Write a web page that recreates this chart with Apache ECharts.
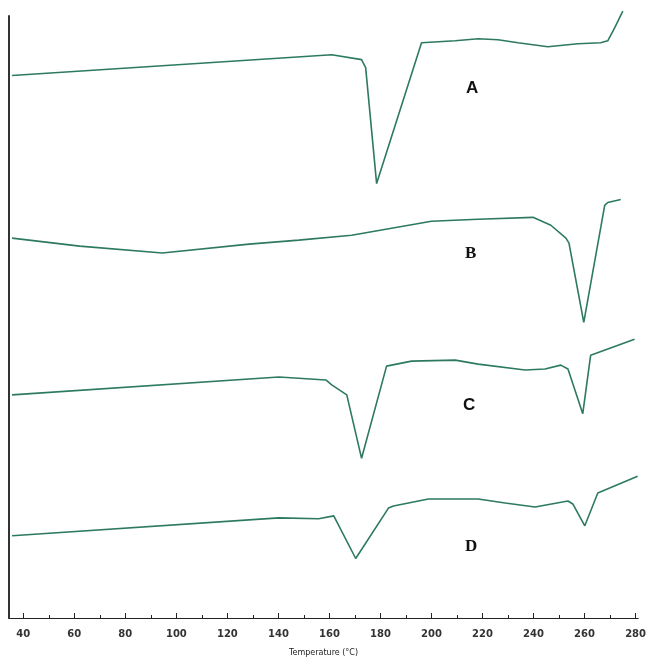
<!DOCTYPE html>
<html>
<head>
<meta charset="utf-8">
<script src="https://cdn.jsdelivr.net/npm/echarts@6/dist/echarts.min.js"></script>
<style>
  html, body { margin: 0; padding: 0; background: #fff; }
  #chart { width: 649px; height: 662px; }
</style>
</head>
<body>
<div id="chart"></div>
<script>
// DSC thermograms, heat flow in arbitrary units (no y scale on the figure)
const tempA = [35.6, 160.9, 172.6, 174.2, 178.5, 196.1, 209.3, 218.3, 226.1, 233.9, 245.6, 257.4, 266.3, 269.1, 271.8, 275.0];
const heatA = [547, 568, 563, 555, 438, 580, 582, 584, 583, 580, 576, 579, 580, 582, 595, 612];

const tempB = [35.6, 62.1, 94.5, 128.5, 148.0, 168.7, 200.0, 218.3, 239.8, 246.8, 252.7, 253.9, 259.7, 267.9, 269.1, 274.2];
const heatB = [383, 375, 368, 377, 381, 386, 400, 402, 404, 396, 383, 378, 298, 416, 419, 422];

const tempC = [35.6, 140.2, 158.6, 160.9, 166.8, 172.6, 182.4, 192.2, 209.3, 218.3, 236.7, 244.5, 250.7, 253.5, 259.3, 262.4, 279.6];
const heatC = [225, 243, 240, 235, 225, 161, 254, 259, 260, 256, 250, 251, 255, 251, 206, 265, 281];

const tempD = [35.6, 140.2, 155.8, 161.7, 170.3, 183.2, 185.1, 198.8, 218.3, 228.9, 240.6, 253.5, 255.4, 260.1, 265.2, 280.8];
const heatD = [83, 101, 100, 103, 60, 111, 113, 120, 120, 116, 112, 118, 115, 93, 126, 143];

const majorTicks = [40, 60, 80, 100, 120, 140, 160, 180, 200, 220, 240, 260, 280];
const minorTicks = [40, 50, 60, 70, 80, 90, 100, 110, 120, 130, 140, 150, 160, 170, 180, 190, 200, 210, 220, 230, 240, 250, 260, 270, 280];

const curveLabels = [
  { text: 'A', x: 466, y: 80, font: 'bold 17px "Liberation Sans"' },
  { text: 'B', x: 465, y: 245, font: 'bold 17px "Liberation Serif"' },
  { text: 'C', x: 463, y: 397, font: 'bold 17px "Liberation Sans"' },
  { text: 'D', x: 465, y: 538, font: 'bold 17px "Liberation Serif"' }
];

const zip = (xs, ys) => xs.map((x, i) => [x, ys[i]]);
const lineColor = '#2d7a5f';

const chart = echarts.init(document.getElementById('chart'));

const makeSeries = (name, xs, ys) => ({
  name: name,
  type: 'line',
  data: zip(xs, ys),
  symbol: 'none',
  clip: false,
  lineStyle: { color: lineColor, width: 1.6 }
});

chart.setOption({
  animation: false,
  grid: { left: 9, right: 8, top: 16, bottom: 39 },
  xAxis: [
    {
      type: 'value',
      min: 34.4,
      max: 281,
      name: 'Temperature (°C)',
      nameLocation: 'middle',
      nameGap: 31,
      nameTextStyle: { fontSize: 8, color: '#222', fontFamily: 'DejaVu Sans' },
      axisLine: { lineStyle: { color: '#222', width: 1.2 } },
      axisTick: { inside: true, length: 5, customValues: majorTicks, lineStyle: { color: '#222' } },
      axisLabel: {
        customValues: majorTicks,
        margin: 11,
        fontSize: 10,
        fontWeight: 'bold',
        color: '#333',
        fontFamily: 'DejaVu Sans'
      },
      splitLine: { show: false }
    },
    {
      type: 'value',
      position: 'bottom',
      min: 34.4,
      max: 281,
      axisLine: { show: false },
      axisTick: { inside: true, length: 3, customValues: minorTicks, lineStyle: { color: '#222' } },
      axisLabel: { show: false },
      splitLine: { show: false }
    }
  ],
  yAxis: {
    type: 'value',
    min: 0,
    max: 607,
    axisLine: { show: true, lineStyle: { color: '#333', width: 2 } },
    axisTick: { show: false },
    axisLabel: { show: false },
    splitLine: { show: false }
  },
  graphic: curveLabels.map(l => ({
    type: 'text',
    left: l.x,
    top: l.y,
    style: { text: l.text, font: l.font, fill: '#111' }
  })),
  series: [
    makeSeries('A', tempA, heatA),
    makeSeries('B', tempB, heatB),
    makeSeries('C', tempC, heatC),
    makeSeries('D', tempD, heatD)
  ]
});
</script>
</body>
</html>
